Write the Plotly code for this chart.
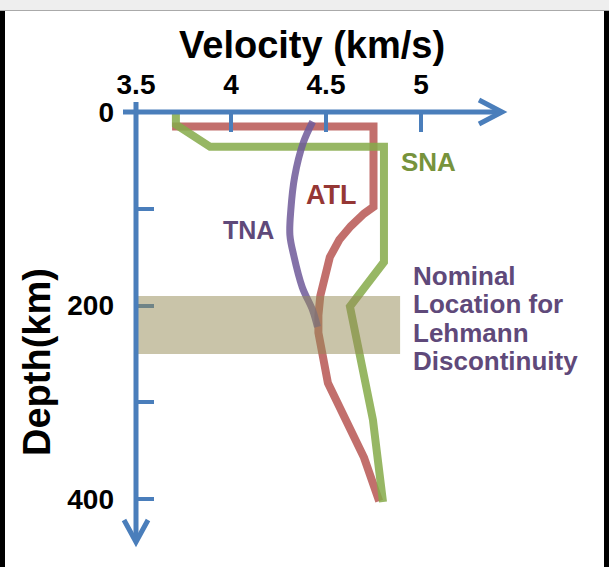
import plotly.graph_objects as go

W, H = 609, 567

# ---- data ----
atl_v = [3.69, 4.75, 4.75, 4.70, 4.63, 4.57, 4.52, 4.49, 4.47, 4.46, 4.46, 4.51, 4.70, 4.78]
atl_d = [15, 15, 98, 105, 118, 132, 150, 170, 190, 210, 228, 280, 357, 402]

sna_v = [3.71, 3.71, 3.89, 4.805, 4.805, 4.626, 4.747, 4.80]
sna_d = [2, 13, 36, 36, 155, 201, 318, 403]

tna_v = [4.43, 4.38, 4.335, 4.315, 4.31, 4.33, 4.375, 4.43, 4.455]
tna_d = [10, 32, 67, 101, 127, 148, 181, 205, 222]

x_ticks = [3.5, 4, 4.5, 5]
x_ticktext = ["3.5", "4", "4.5", "5"]
y_ticks = [0, 100, 200, 300, 400]
y_ticktext = ["0", "", "200", "", "400"]

band_depth = [190, 250]
band_v = [3.51, 4.89]

# ---- pixel mapping helpers (plot area = whole figure) ----
PX_PER_V = 190.0
PX_PER_KM = 0.968
X0_PX, Y0_PX = 136, 112
xr = [3.5 - X0_PX / PX_PER_V, 3.5 + (W - X0_PX) / PX_PER_V]
yr = [(H - Y0_PX) / PX_PER_KM, -Y0_PX / PX_PER_KM]

def vx(px):
    return 3.5 + (px - X0_PX) / PX_PER_V

def dy(py):
    return (py - Y0_PX) / PX_PER_KM

def pxp(px):
    return px / W

def pyp(py):
    return 1 - py / H

BLUE = "#4a7ebb"
FONT = "Liberation Sans"

fig = go.Figure()
fig.add_trace(go.Scatter(x=atl_v, y=atl_d, mode="lines",
                         line=dict(color="#b5504d", width=8), opacity=0.82,
                         hoverinfo="skip", showlegend=False))
fig.add_trace(go.Scatter(x=sna_v, y=sna_d, mode="lines",
                         line=dict(color="#86ab4a", width=8), opacity=0.85,
                         hoverinfo="skip", showlegend=False))
fig.add_trace(go.Scatter(x=tna_v, y=tna_d, mode="lines",
                         line=dict(color="#6f5a9a", width=7, shape="spline"),
                         opacity=0.85, hoverinfo="skip", showlegend=False))

shapes = []
# Lehmann band
shapes.append(dict(type="rect", xref="x", yref="y", x0=band_v[0], x1=band_v[1],
                   y0=band_depth[0], y1=band_depth[1],
                   fillcolor="rgba(148,138,84,0.5)", line=dict(width=0), layer="above"))
# axis lines
shapes.append(dict(type="line", xref="x", yref="y", x0=vx(123), x1=vx(500), y0=0, y1=0,
                   line=dict(color=BLUE, width=5), layer="above"))
shapes.append(dict(type="line", xref="x", yref="y", x0=3.5, x1=3.5, y0=dy(102), y1=dy(540),
                   line=dict(color=BLUE, width=5), layer="above"))
# arrow heads (open chevrons)
shapes.append(dict(type="path", xref="x", yref="y",
                   path=f"M {vx(479)} {dy(100)} L {vx(502)} {dy(112)} L {vx(479)} {dy(124)}",
                   line=dict(color=BLUE, width=5), layer="above"))
shapes.append(dict(type="path", xref="x", yref="y",
                   path=f"M {vx(124)} {dy(520)} L {vx(136)} {dy(542)} L {vx(148)} {dy(520)}",
                   line=dict(color=BLUE, width=5), layer="above"))
# window chrome (screenshot framing)
shapes.append(dict(type="rect", xref="paper", yref="paper", x0=0, x1=1, y0=pyp(10), y1=1,
                   fillcolor="#eeeeee", line=dict(width=0), layer="above"))
shapes.append(dict(type="line", xref="paper", yref="paper", x0=0, x1=1, y0=pyp(10.5), y1=pyp(10.5),
                   line=dict(color="#aaaaaa", width=1), layer="above"))
shapes.append(dict(type="rect", xref="paper", yref="paper", x0=0, x1=pxp(5), y0=0, y1=pyp(11),
                   fillcolor="black", line=dict(width=0), layer="above"))
shapes.append(dict(type="rect", xref="paper", yref="paper", x0=pxp(604), x1=1, y0=0, y1=pyp(11),
                   fillcolor="black", line=dict(width=0), layer="above"))

ann = []
ann.append(dict(text="Velocity (km/s)", xref="paper", yref="paper", x=pxp(312), y=pyp(45),
                xanchor="center", yanchor="middle", showarrow=False,
                font=dict(family=FONT, size=38, color="black", weight="bold")))
ann.append(dict(text="Depth(km)", xref="paper", yref="paper", x=pxp(37), y=pyp(362),
                xanchor="center", yanchor="middle", showarrow=False, textangle=-90,
                font=dict(family=FONT, size=38, color="black", weight="bold")))
ann.append(dict(text="SNA", xref="paper", yref="paper", x=pxp(428), y=pyp(162),
                xanchor="center", yanchor="middle", showarrow=False,
                font=dict(family=FONT, size=26, color="#77933c", weight="bold")))
ann.append(dict(text="ATL", xref="paper", yref="paper", x=pxp(331), y=pyp(195),
                xanchor="center", yanchor="middle", showarrow=False,
                font=dict(family=FONT, size=27, color="#953735", weight="bold")))
ann.append(dict(text="TNA", xref="paper", yref="paper", x=pxp(248), y=pyp(230),
                xanchor="center", yanchor="middle", showarrow=False,
                font=dict(family=FONT, size=25, color="#5f497a", weight="bold")))
for txt, cy in zip(["Nominal", "Location for", "Lehmann", "Discontinuity"], [276, 304, 333, 361]):
    ann.append(dict(text=txt, xref="paper", yref="paper", x=pxp(411), y=pyp(cy),
                    xanchor="left", yanchor="middle", showarrow=False,
                    font=dict(family=FONT, size=26, color="#5f497a", weight="bold")))

fig.update_layout(
    width=W, height=H,
    margin=dict(l=0, r=0, t=0, b=0),
    paper_bgcolor="white", plot_bgcolor="white",
    shapes=shapes, annotations=ann,
    xaxis=dict(range=xr, side="top", anchor="free", position=pyp(Y0_PX),
               tickvals=x_ticks, ticktext=x_ticktext, ticks="inside", ticklen=19,
               tickwidth=4, tickcolor=BLUE, showline=False, showgrid=False, zeroline=False,
               ticklabelstandoff=12, fixedrange=True,
               tickfont=dict(family=FONT, size=28, color="black", weight="bold")),
    yaxis=dict(range=yr, anchor="free", position=pxp(X0_PX),
               tickvals=y_ticks, ticktext=y_ticktext, ticks="inside", ticklen=17,
               tickwidth=4, tickcolor=BLUE, showline=False, showgrid=False, zeroline=False,
               ticklabelstandoff=22, fixedrange=True,
               tickfont=dict(family=FONT, size=28, color="black", weight="bold")),
)

fig.write_html("out.html", config={"displayModeBar": False},
               post_script="document.body.style.margin='0';document.body.style.overflow='hidden';")
